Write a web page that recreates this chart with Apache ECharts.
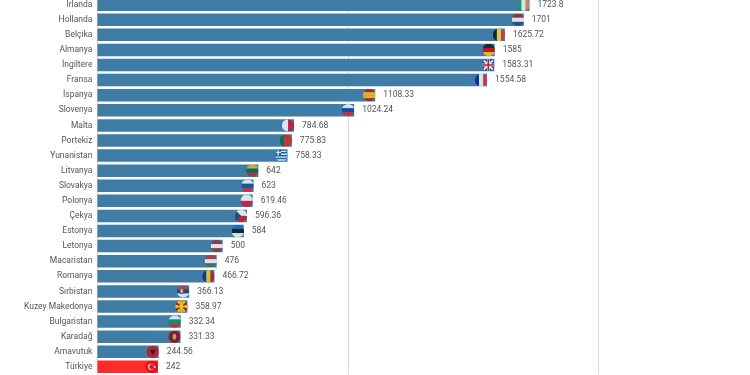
<!DOCTYPE html>
<html>
<head>
<meta charset="utf-8">
<style>html,body{margin:0;padding:0;background:#fff}#chart{width:750px;height:375px}</style>
<script src="https://cdn.jsdelivr.net/npm/echarts@6/dist/echarts.min.js"></script>
</head>
<body>
<div id="chart"></div>
<script>
var countries = ["İrlanda","Hollanda","Belçika","Almanya","İngiltere","Fransa","İspanya","Slovenya","Malta","Portekiz","Yunanistan","Litvanya","Slovakya","Polonya","Çekya","Estonya","Letonya","Macaristan","Romanya","Sırbistan","Kuzey Makedonya","Bulgaristan","Karadağ","Arnavutuk","Türkiye"];
var values = [1723.8,1701,1625.72,1585,1583.31,1554.58,1108.33,1024.24,784.68,775.83,758.33,642,623,619.46,596.36,584,500,476,466.72,366.13,358.97,332.34,331.33,244.56,242];
var highlight = "Türkiye";

// flag stripes: h = horizontal bands, v = vertical bands
var flags = {
  "İrlanda":["v","#169b62","#ffffff","#ff883e"],
  "Hollanda":["h","#ae1c28","#ffffff","#21468b"],
  "Belçika":["v","#111111","#fae042","#ed2939"],
  "Almanya":["h","#111111","#dd0000","#ffce00"],
  "İngiltere":["uk"],
  "Fransa":["v","#002395","#ffffff","#ed2939"],
  "İspanya":["h","#c60b1e","#ffc400","#ffc400","#c60b1e"],
  "Slovenya":["h","#ffffff","#0b3fa8","#ed1c24"],
  "Malta":["v","#ffffff","#cf142b"],
  "Portekiz":["v","#046a38","#da291c","#da291c"],
  "Yunanistan":["gr"],
  "Litvanya":["h","#fdb913","#006a44","#c1272d"],
  "Slovakya":["h","#ffffff","#0b4ea2","#ee1c25"],
  "Polonya":["h","#ffffff","#dc143c"],
  "Çekya":["cz"],
  "Estonya":["h","#0072ce","#111111","#ffffff"],
  "Letonya":["h","#9e3039","#ffffff","#9e3039"],
  "Macaristan":["h","#cd2a3e","#ffffff","#436f4d"],
  "Romanya":["v","#002b7f","#fcd116","#ce1126"],
  "Sırbistan":["rs"],
  "Kuzey Makedonya":["mk"],
  "Bulgaristan":["h","#ffffff","#00966e","#d62612"],
  "Karadağ":["me"],
  "Arnavutuk":["al"],
  "Türkiye":["tr"]
};

function flagSvg(def) {
  var body = "";
  var kind = def[0];
  if (kind === "uk") {
    body = '<rect width="24" height="24" fill="#012169"/><path d="M0 0L24 24M24 0L0 24" stroke="#fff" stroke-width="4"/><path d="M12 0V24M0 12H24" stroke="#fff" stroke-width="6"/><path d="M12 0V24M0 12H24" stroke="#c8102e" stroke-width="3"/>';
  } else if (kind === "cz") {
    body = '<rect width="24" height="12" fill="#fff"/><rect y="12" width="24" height="12" fill="#d7141a"/><path d="M0 0L13 12L0 24Z" fill="#11457e"/>';
  } else if (kind === "mk") {
    body = '<rect width="24" height="24" fill="#d20000"/><path d="M12 12L0 0H8ZM12 12L24 0H16ZM12 12L0 24H8ZM12 12L24 24H16ZM12 12L0 8V16ZM12 12L24 8V16ZM12 12L9 0H15ZM12 12L9 24H15Z" fill="#ffe600"/><circle cx="12" cy="12" r="4" fill="#ffe600"/>';
  } else if (kind === "gr") {
    body = '<rect width="24" height="24" fill="#0d5eaf"/><path d="M0 4H24M0 9.5H24M0 15H24M0 20.5H24" stroke="#fff" stroke-width="2.6"/><rect width="11" height="12" fill="#0d5eaf"/><path d="M5.5 0V12M0 6H11" stroke="#fff" stroke-width="2.6"/>';
  } else if (kind === "rs") {
    body = '<rect width="24" height="8" fill="#c6363c"/><rect y="8" width="24" height="8" fill="#0c4076"/><rect y="16" width="24" height="8" fill="#fff"/><rect x="5" y="6" width="8" height="11" rx="3" fill="#c6363c"/><rect x="7.5" y="8" width="3" height="6" fill="#fff"/>';
  } else if (kind === "me") {
    body = '<rect width="24" height="24" fill="#c40308"/><circle cx="12" cy="12" r="10" fill="#7d0d14"/><ellipse cx="12" cy="12" rx="3.5" ry="5.5" fill="#d3ae3b"/>';
  } else if (kind === "al") {
    body = '<rect width="24" height="24" fill="#d01020"/><path d="M6 8H18L15 13L12 19L9 13Z" fill="#2a0a0e"/>';
  } else if (kind === "tr") {
    body = '<rect width="24" height="24" fill="#e30a17"/><circle cx="10" cy="12" r="6" fill="#fff"/><circle cx="11.5" cy="12" r="4.8" fill="#e30a17"/><circle cx="17" cy="12" r="2.2" fill="#fff"/>';
  } else {
    var bands = def.slice(1);
    var w = 24 / bands.length;
    bands.forEach(function (c, i) {
      body += kind === "v"
        ? '<rect x="' + i * w + '" width="' + (w + 0.3) + '" height="24" fill="' + c + '"/>'
        : '<rect y="' + i * w + '" height="' + (w + 0.3) + '" width="24" fill="' + c + '"/>';
    });
  }
  var svg = '<svg xmlns="http://www.w3.org/2000/svg" width="48" height="48" viewBox="0 0 24 24"><clipPath id="c"><circle cx="12" cy="12" r="12"/></clipPath><g clip-path="url(#c)">' + body + '</g></svg>';
  return "image://data:image/svg+xml;charset=utf-8," + encodeURIComponent(svg);
}

var myChart = echarts.init(document.getElementById("chart"));
myChart.setOption({
  animation: false,
  grid: { left: 97.4, top: -2.9, width: 752, height: 377.3, outerBoundsMode: "none" },
  xAxis: {
    type: "value",
    min: 0,
    max: 3000,
    interval: 1000,
    axisLine: { show: false },
    axisTick: { show: false },
    axisLabel: { show: false },
    splitLine: { lineStyle: { color: "#d9d9d9", width: 1 } }
  },
  yAxis: {
    type: "category",
    inverse: true,
    data: countries,
    axisLine: { show: false },
    axisTick: { show: false },
    axisLabel: { color: "#555", fontSize: 8.5, fontFamily: "Roboto", margin: 5 }
  },
  series: [
    {
      type: "bar",
      barWidth: 12.5,
      data: values.map(function (v, i) {
        return {
          value: v,
          itemStyle: { color: countries[i] === highlight ? "#ff2b2b" : "#3f7ca6" }
        };
      }),
      label: {
        show: true,
        position: "right",
        distance: 8,
        color: "#555",
        fontSize: 8.5,
        fontFamily: "Roboto"
      }
    },
    {
      type: "scatter",
      silent: true,
      symbolSize: 12.5,
      symbolOffset: [-6, 0],
      data: values.map(function (v, i) {
        return { value: [v, i], symbol: flagSvg(flags[countries[i]]) };
      })
    }
  ]
});
</script>
</body>
</html>
